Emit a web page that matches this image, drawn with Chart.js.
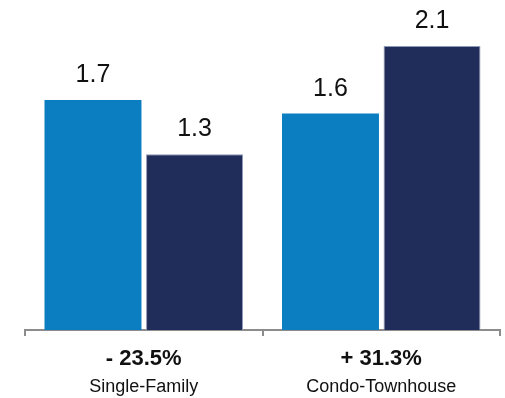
<!DOCTYPE html>
<html>
<head>
<meta charset="utf-8">
<script src="https://cdn.jsdelivr.net/npm/chart.js@4"></script>
<style>
  html, body { margin: 0; padding: 0; background: #fff; }
  #wrap { width: 505px; height: 398px; position: relative; }
</style>
</head>
<body>
<div id="wrap"><canvas id="chart"></canvas></div>
<script>
const categories = ["Single-Family", "Condo-Townhouse"];
const changeLabels = ["- 23.5%", "+ 31.3%"];
const seriesA = [1.7, 1.6];
const seriesB = [1.3, 2.1];

const FONT = "'Liberation Sans', Arial, Helvetica, sans-serif";

// value labels above each bar + two-line category labels under the axis
const labelPlugin = {
    id: "labels",
    afterDatasetsDraw(chart) {
        const ctx = chart.ctx;
        ctx.save();
        ctx.fillStyle = "#111";
        ctx.textAlign = "center";
        ctx.textBaseline = "alphabetic";
        ctx.font = `25px ${FONT}`;
        chart.data.datasets.forEach((ds, i) => {
            chart.getDatasetMeta(i).data.forEach((bar, j) => {
                ctx.fillText(ds.data[j].toFixed(1), bar.x, bar.y - 18);
            });
        });
        const xScale = chart.scales.x;
        categories.forEach((name, j) => {
            const x = xScale.getPixelForValue(j);
            ctx.font = `bold 22px ${FONT}`;
            ctx.fillText(changeLabels[j], x, 365);
            ctx.font = `18px ${FONT}`;
            ctx.fillText(name, x, 392);
        });
        ctx.restore();
    },
};

new Chart(document.getElementById("chart"), {
    type: "bar",
    data: {
        labels: categories,
        datasets: [
            { data: seriesA, backgroundColor: "#0b7dc1", categoryPercentage: 0.855, barPercentage: 0.955 },
            { data: seriesB, backgroundColor: "#202d5a", borderColor: "#8f99b8", borderWidth: 1, categoryPercentage: 0.855, barPercentage: 0.955 },
        ],
    },
    options: {
        responsive: true,
        maintainAspectRatio: false,
        animation: false,
        layout: { padding: { left: 25, right: 5, top: 0, bottom: 62 } },
        plugins: { legend: { display: false }, tooltip: { enabled: false } },
        scales: {
            x: {
                ticks: { display: false },
                grid: { drawOnChartArea: false, drawTicks: true, tickLength: 6, color: "#8c8c8c", lineWidth: 2 },
                border: { color: "#8c8c8c", width: 2 },
            },
            y: {
                display: false,
                min: 0,
                max: 2.44,
            },
        },
    },
    plugins: [labelPlugin],
});
</script>
</body>
</html>
